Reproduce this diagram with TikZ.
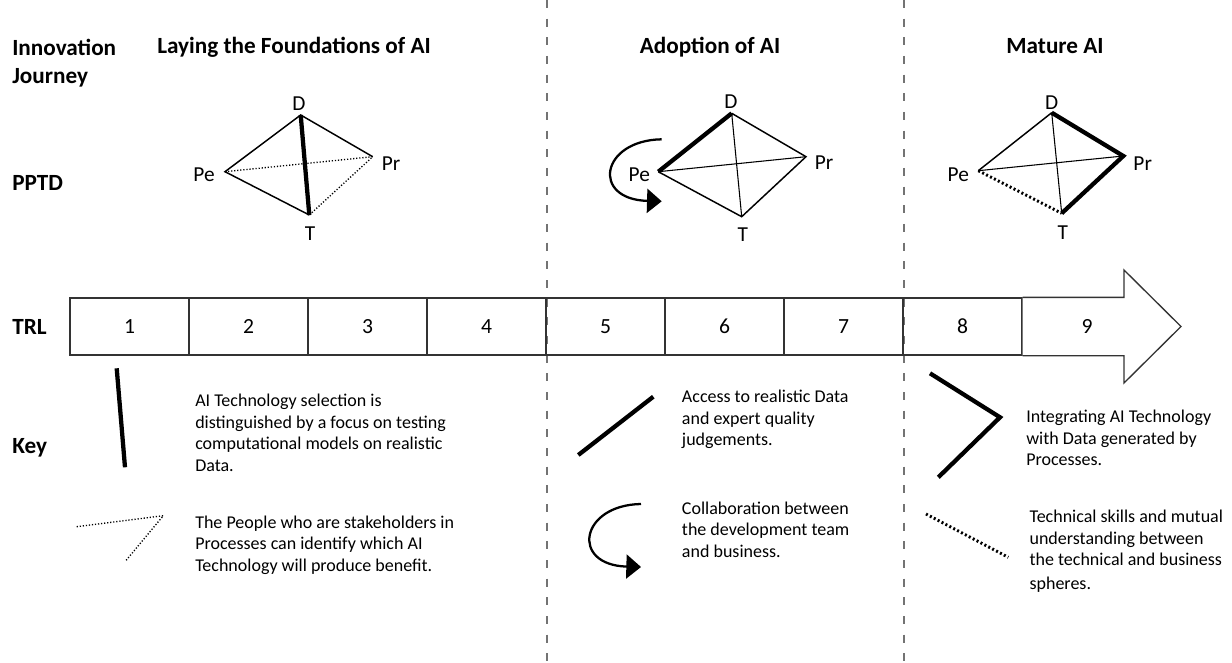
\documentclass[tikz,border=0pt]{standalone}
\usepackage{fontspec}
\setmainfont{Carlito}
\usepackage{tikz}
\usetikzlibrary{arrows.meta}

\begin{document}
\begin{tikzpicture}[x=0.75pt, y=-0.75pt,
    edge/.style={line width=1.1pt},
    diag/.style={line width=0.8pt},
    boldedge/.style={line width=3.2pt},
    dotedge/.style={line width=1pt, dash pattern=on 0.9pt off 1.4pt},
    bolddot/.style={line width=2.2pt, dash pattern=on 1.5pt off 1.8pt},
    vlabel/.style={font=\fontsize{16}{19}\selectfont, inner sep=0pt},
    heading/.style={font=\bfseries\fontsize{17.4}{21.2}\selectfont, inner sep=0pt},
    keytext/.style={font=\fontsize{13.5}{16.1}\selectfont, align=left, anchor=north west, inner sep=0pt},
    trlnum/.style={font=\fontsize{16.2}{19}\selectfont, inner sep=0pt},
    trlcell/.style={trlnum, draw=black!80, line width=1pt, minimum width=89.25pt, minimum height=42.75pt},
    phaseline/.style={black!55, line width=1.4pt, dash pattern=on 6pt off 8pt},
    collab/.style={line width=1.7pt, -{Triangle[length=11pt, width=18pt]}}]

    \fill[white] (0,0) rectangle (1232,663);
    \useasboundingbox (0,0) rectangle (1232,663);

    % 1. Phase separators
    \draw[phaseline] (547,0) -- (547,663);
    \draw[phaseline] (904,0) -- (904,663);

    % 2. Row labels and phase headings
    \node[heading, anchor=north west, align=left] (journey) at (12,38.5) {Innovation\\Journey};
    \node[heading, anchor=base] (found) at (294,54) {Laying the Foundations of AI};
    \node[heading, anchor=base] (adopt) at (710,54) {Adoption of AI};
    \node[heading, anchor=base] (mature) at (1055,54) {Mature AI};
    \node[heading, anchor=base west] (pptd) at (12,190.4) {PPTD};
    \node[heading, anchor=base west] (trl) at (12,334.4) {TRL};
    \node[heading, anchor=base west] (key) at (12,453.4) {Key};

    % 3. PPTD tetrahedra
    \coordinate (D1) at (300.7,115);
    \coordinate (Pe1) at (225,171.7);
    \coordinate (Pr1) at (372.7,156.7);
    \coordinate (T1) at (309.3,215);
    \node[vlabel] (lD1) at (299,103.7) {D};
    \node[vlabel] (lPe1) at (204,175) {Pe};
    \node[vlabel] (lPr1) at (391,163.5) {Pr};
    \node[vlabel] (lT1) at (310,233.5) {T};
    \draw[dotedge] (Pe1) -- (Pr1) -- (T1);
    \draw[edge] (Pr1) -- (D1) -- (Pe1) -- (T1);
    \draw[boldedge] (D1) -- (T1);

    \coordinate (D2) at (731.7,113.3);
    \coordinate (Pe2) at (658.3,171.7);
    \coordinate (Pr2) at (806,156.7);
    \coordinate (T2) at (741.7,216.7);
    \node[vlabel] (lD2) at (731,101.7) {D};
    \node[vlabel] (lPe2) at (639.3,175) {Pe};
    \node[vlabel] (lPr2) at (824,163) {Pr};
    \node[vlabel] (lT2) at (742.7,235) {T};
    \draw[diag] (D2) -- (T2) (Pe2) -- (Pr2);
    \draw[edge] (D2) -- (Pr2) -- (T2) -- (Pe2);
    \draw[boldedge] (Pe2) -- (D2);
    \coordinate (C2) at (661.7,139.3);
    \draw[collab] (C2) .. controls +(-61,1) and +(-71,-2) .. +(0,62);

    \coordinate (D3) at (1051.7,112.7);
    \coordinate (Pe3) at (978.3,170.7);
    \coordinate (Pr3) at (1123.3,156);
    \coordinate (T3) at (1061.7,213.3);
    \node[vlabel] (lD3) at (1051.7,102.7) {D};
    \node[vlabel] (lPe3) at (958.3,174.3) {Pe};
    \node[vlabel] (lPr3) at (1142.7,163.3) {Pr};
    \node[vlabel] (lT3) at (1062.7,232.7) {T};
    \draw[diag] (D3) -- (T3) (Pe3) -- (Pr3);
    \draw[edge] (D3) -- (Pe3);
    \draw[bolddot] (Pe3) -- (T3);
    \draw[boldedge] (D3) -- (Pr3) -- (T3);

    % 4. TRL bar
    \foreach \n in {1,...,8}
        \node[trlcell] (t\n) at ({70+119*(\n-0.5)},326.5) {\n};
    \draw[draw=black!80, line width=1pt, fill=white]
        (t8.north east) -| (1124,270) -- (1181,326.5) -- (1124,383) |- (t8.south east);
    \node[trlnum] (t9) at (1087,326.5) {9};

    % 5. Key
    \coordinate (k1a) at (116.7,368.3);
    \coordinate (k1b) at (125,467.3);
    \draw[boldedge] (k1a) -- (k1b);
    \node[keytext] (k1) at (195,393.9) {AI Technology selection is\\distinguished by a focus on testing\\computational models on realistic\\Data.};

    \coordinate (k2a) at (76.7,526.7);
    \coordinate (k2b) at (163.3,515.7);
    \coordinate (k2c) at (125,561.7);
    \draw[dotedge] (k2a) -- (k2b) -- (k2c);
    \node[keytext] (k2) at (195,515.5) {The People who are stakeholders in\\Processes can identify which AI\\Technology will produce benefit.};

    \coordinate (k3a) at (578.3,455);
    \coordinate (k3b) at (653.3,396.7);
    \draw[boldedge] (k3a) -- (k3b);
    \node[keytext] (k3) at (681.7,389.9) {Access to realistic Data\\and expert quality\\judgements.};

    \coordinate (k4a) at (641,504);
    \draw[collab] (k4a) .. controls +(-61,1) and +(-71,-2) .. +(0,63);
    \node[keytext] (k4) at (681.7,501.5) {Collaboration between\\the development team\\and business.};

    \coordinate (k5a) at (930,373.3);
    \coordinate (k5b) at (1000,417.3);
    \coordinate (k5c) at (938.3,477.3);
    \draw[boldedge] (k5a) -- (k5b) -- (k5c);
    \node[keytext] (k5) at (1026,409.9) {Integrating AI Technology\\with Data generated by\\Processes.};

    \coordinate (k6a) at (926,514);
    \coordinate (k6b) at (1008.3,557.3);
    \draw[bolddot] (k6a) -- (k6b);
    \node[keytext] (k6) at (1029.3,509.9) {Technical skills and mutual\\understanding between\\the technical and business\\[1.5pt]spheres.};

\end{tikzpicture}
\end{document}
